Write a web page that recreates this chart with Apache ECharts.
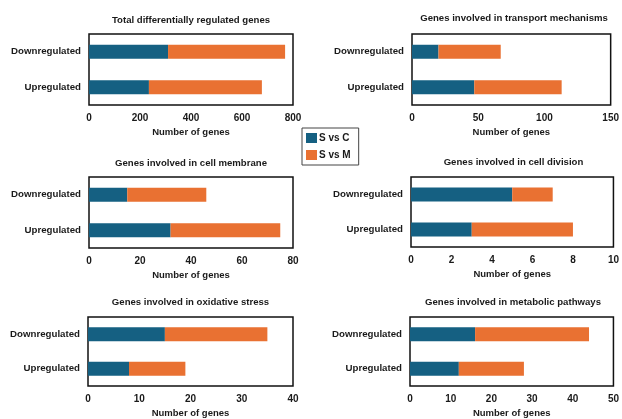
<!DOCTYPE html>
<html>
<head>
<meta charset="utf-8">
<script src="https://cdn.jsdelivr.net/npm/echarts@6/dist/echarts.min.js"></script>
<style>
  html, body { margin: 0; padding: 0; background: #fff; }
  #main { width: 622px; height: 419px; }
</style>
</head>
<body>
<div id="main"></div>
<script>
var categories = ['Upregulated', 'Downregulated'];
var panelTitles = [
    'Total differentially regulated genes',
    'Genes involved in transport mechanisms',
    'Genes involved in cell membrane',
    'Genes involved in cell division',
    'Genes involved in oxidative stress',
    'Genes involved in metabolic pathways'
];
// [Upregulated, Downregulated] per panel
var svcValues = [[235, 310], [47, 20], [32, 15], [3, 5], [8, 15], [12, 16]];
var svmValues = [[443, 459], [66, 47], [43, 31], [5, 2], [11, 20], [16, 28]];
var axisMax = [800, 150, 80, 10, 40, 50];
var axisInterval = [200, 50, 20, 2, 10, 10];
var xAxisName = 'Number of genes';
var seriesNames = ['S vs C', 'S vs M'];

var chartDom = document.getElementById('main');
var myChart = echarts.init(chartDom);
var option;

var font = "'Liberation Sans', Arial, sans-serif";
var textColor = '#1a1a1a';
var colors = ['#156082', '#E97132'];

// grid boxes in pixels
var boxes = [
    { left: 89, top: 34, width: 204, height: 71 },
    { left: 412, top: 34, width: 204, height: 71 },
    { left: 89, top: 177, width: 204, height: 71 },
    { left: 411, top: 177, width: 205, height: 70 },
    { left: 88, top: 317, width: 205, height: 71 },
    { left: 410, top: 317, width: 206, height: 71 }
];
var titleTops = [15, 13, 158, 157, 297, 297];

var grids = [], xAxes = [], yAxes = [], titles = [], series = [];

boxes.forEach(function (b, i) {
    grids.push({
        left: b.left, top: b.top, width: b.width, height: b.height,
        show: true, borderColor: '#111', borderWidth: 1.5,
        backgroundColor: 'transparent'
    });
    titles.push({
        text: panelTitles[i],
        left: b.left + b.width / 2,
        top: titleTops[i],
        textAlign: 'center',
        padding: 0,
        textStyle: { fontFamily: font, fontSize: 9.6, fontWeight: 'bold', color: textColor }
    });
    xAxes.push({
        type: 'value', gridIndex: i, min: 0, max: axisMax[i], interval: axisInterval[i],
        name: xAxisName, nameLocation: 'middle', nameGap: 22,
        nameTextStyle: { fontFamily: font, fontSize: 9.5, fontWeight: 'bold', color: textColor },
        axisLine: { show: false }, axisTick: { show: false }, splitLine: { show: false },
        axisLabel: { margin: 8, fontFamily: font, fontSize: 10, fontWeight: 'bold', color: textColor }
    });
    yAxes.push({
        type: 'category', gridIndex: i, data: categories,
        axisLine: { show: false }, axisTick: { show: false }, splitLine: { show: false },
        axisLabel: { margin: 8, fontFamily: font, fontSize: 9.7, fontWeight: 'bold', color: textColor }
    });
    series.push({
        name: seriesNames[0], type: 'bar', stack: 'p' + i, xAxisIndex: i, yAxisIndex: i,
        barWidth: 14, data: svcValues[i], itemStyle: { color: colors[0] }
    });
    series.push({
        name: seriesNames[1], type: 'bar', stack: 'p' + i, xAxisIndex: i, yAxisIndex: i,
        barWidth: 14, data: svmValues[i], itemStyle: { color: colors[1] }
    });
});

option = {
    animation: false,
    color: colors,
    title: titles,
    legend: {
        data: seriesNames,
        orient: 'vertical',
        left: 302, top: 128,
        padding: [5, 8, 5, 4],
        itemWidth: 11, itemHeight: 10, itemGap: 7,
        icon: 'rect',
        borderColor: '#444', borderWidth: 1,
        textStyle: { fontFamily: font, fontSize: 10, fontWeight: 'bold', color: textColor, padding: [0, 0, 0, -3] }
    },
    grid: grids,
    xAxis: xAxes,
    yAxis: yAxes,
    series: series
};

option && myChart.setOption(option);
</script>
</body>
</html>
